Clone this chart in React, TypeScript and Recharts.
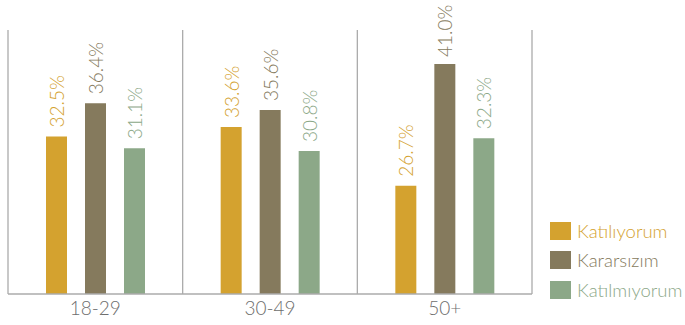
import { BarChart, Bar, XAxis, YAxis, CartesianGrid, LabelList } from "recharts";

const groups = ["18-29", "30-49", "50+"];
const katiliyorum = [32.5, 33.6, 26.7];
const kararsizim = [36.4, 35.6, 41.0];
const katilmiyorum = [31.1, 30.8, 32.3];

const series = [
  { key: "katiliyorum", name: "Katılıyorum", color: "#D4A22F", values: katiliyorum },
  { key: "kararsizim", name: "Kararsızım", color: "#857A5D", values: kararsizim },
  { key: "katilmiyorum", name: "Katılmıyorum", color: "#8CA888", values: katilmiyorum },
];

const data = groups.map((g, i) => ({
  group: g,
  katiliyorum: katiliyorum[i],
  kararsizim: kararsizim[i],
  katilmiyorum: katilmiyorum[i],
}));

const FONT = "Lato, 'Open Sans', sans-serif";

function makeLabel(color: string) {
  return (props: any) => {
    const { x, y, width, value } = props;
    const cx = x + width / 2;
    const start = Math.max(y - 9, 57);
    return (
      <text
        x={cx}
        y={start}
        transform={`rotate(-90 ${cx} ${start})`}
        fill={color}
        fontSize={19}
        fontWeight={300}
        fontFamily={FONT}
        textAnchor="start"
        dominantBaseline="central"
      >
        {value.toFixed(1)}%
      </text>
    );
  };
}

export default function App() {
  return (
    <div style={{ position: "absolute", left: 0, top: 0, width: 685, height: 325, background: "#fff" }}>
      <BarChart
        width={685}
        height={325}
        data={data}
        margin={{ top: 30, right: 153, bottom: 0, left: 8 }}
        barSize={21}
        barGap={18}
      >
        <CartesianGrid
          horizontal={false}
          stroke="#ababab"
          strokeWidth={1.3}
          verticalCoordinatesGenerator={({ offset }: any) => [
            offset.left,
            offset.left + offset.width / 3,
            offset.left + (offset.width * 2) / 3,
            offset.left + offset.width,
          ]}
        />
        <XAxis
          dataKey="group"
          height={31}
          axisLine={{ stroke: "#ababab", strokeWidth: 1.3 }}
          tickLine={false}
          tickSize={6}
          tick={{ fill: "#6e6e6e", fontSize: 19, fontWeight: 300, fontFamily: FONT }}
        />
        <YAxis hide domain={[14, 45]} allowDataOverflow />
        {series.map((s) => (
          <Bar key={s.key} dataKey={s.key} name={s.name} fill={s.color} isAnimationActive={false}>
            <LabelList dataKey={s.key} content={makeLabel(s.color)} />
          </Bar>
        ))}
      </BarChart>
      <div style={{ position: "absolute", left: 550, top: 216, fontFamily: FONT, fontSize: 18.5, fontWeight: 300 }}>
        {series.map((s) => (
          <div key={s.key} style={{ display: "flex", alignItems: "center", height: 29.5 }}>
            <span style={{ display: "inline-block", width: 21, height: 18, background: s.color, marginRight: 6 }} />
            <span style={{ color: s.color }}>{s.name}</span>
          </div>
        ))}
      </div>
    </div>
  );
}
